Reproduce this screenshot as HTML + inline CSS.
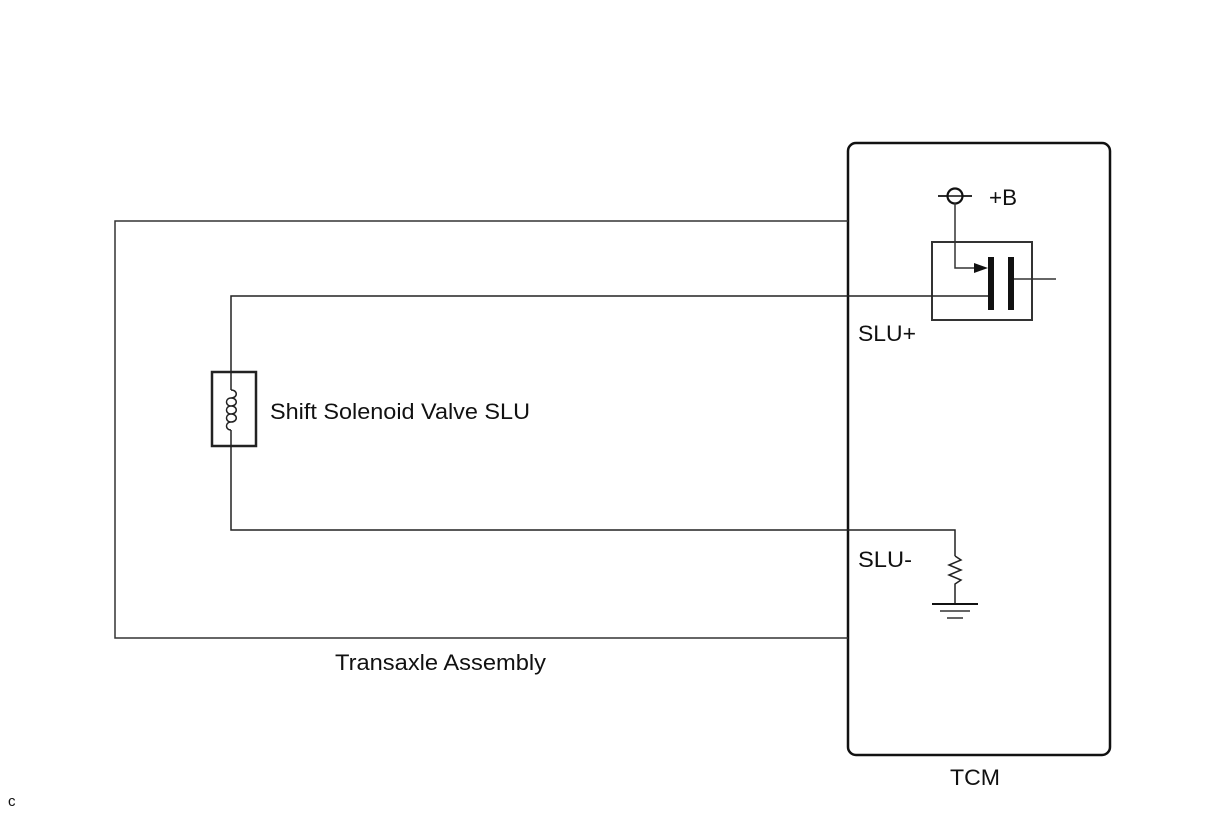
<!DOCTYPE html>
<html><head><style>
html,body{margin:0;padding:0;background:#fff;}
svg{display:block;}
text{font-family:"Liberation Sans",sans-serif;fill:#111;}
</style></head><body>
<svg width="1210" height="814" viewBox="0 0 1210 814" xmlns="http://www.w3.org/2000/svg">
<rect width="1210" height="814" fill="#fff"/>
<rect x="848" y="143" width="262" height="612" rx="8" fill="none" stroke="#111" stroke-width="2.5"/>
<polyline points="848,221 115,221 115,638 848,638" fill="none" stroke="#333" stroke-width="1.5"/>
<line x1="938" y1="196" x2="972" y2="196" stroke="#111" stroke-width="1.5"/>
<circle cx="955" cy="196" r="7.5" fill="#fff" stroke="#111" stroke-width="2.2"/>
<line x1="938" y1="196" x2="972" y2="196" stroke="#111" stroke-width="1.5"/>
<text x="989" y="205" font-size="22" textLength="28" lengthAdjust="spacingAndGlyphs">+B</text>
<rect x="932" y="242" width="100" height="78" fill="none" stroke="#333" stroke-width="2"/>
<polyline points="955,203 955,268 976,268" fill="none" stroke="#333" stroke-width="1.5"/>
<polygon points="974,263 988,268 974,273" fill="#111"/>
<rect x="988" y="257" width="6" height="53" fill="#111"/>
<rect x="1008" y="257" width="6" height="53" fill="#111"/>
<line x1="1014" y1="279" x2="1056" y2="279" stroke="#333" stroke-width="1.5"/>
<polyline points="988,296 231,296 231,372" fill="none" stroke="#222" stroke-width="1.5"/>
<text x="858" y="341" font-size="22" textLength="58" lengthAdjust="spacingAndGlyphs">SLU+</text>
<rect x="212" y="372" width="44" height="74" fill="none" stroke="#222" stroke-width="2.5"/>
<line x1="231" y1="372" x2="231" y2="390" stroke="#222" stroke-width="1.5"/>
<path d="M231,390 c7,0 7,8 0,8 c-6,0 -6,8 0,8 M231,398 c7,0 7,8 0,8 c-6,0 -6,8 0,8 M231,406 c7,0 7,8 0,8 c-6,0 -6,8 0,8 M231,414 c7,0 7,8 0,8 c-6,0 -6,8 0,8" fill="none" stroke="#222" stroke-width="1.5"/>
<line x1="231" y1="430" x2="231" y2="446" stroke="#222" stroke-width="1.5"/>
<text x="270" y="419" font-size="22" textLength="260" lengthAdjust="spacingAndGlyphs">Shift Solenoid Valve SLU</text>
<polyline points="231,446 231,530 955,530 955,556" fill="none" stroke="#222" stroke-width="1.5"/>
<polyline points="955,556 961,560 949,565 961,570 949,575 961,580 955,584 955,604" fill="none" stroke="#222" stroke-width="1.5"/>
<text x="858" y="567" font-size="22" textLength="54" lengthAdjust="spacingAndGlyphs">SLU-</text>
<line x1="932" y1="604" x2="978" y2="604" stroke="#111" stroke-width="2"/>
<line x1="940" y1="611" x2="970" y2="611" stroke="#333" stroke-width="1.5"/>
<line x1="947" y1="618" x2="963" y2="618" stroke="#333" stroke-width="1.5"/>
<text x="335" y="670" font-size="22" textLength="211" lengthAdjust="spacingAndGlyphs">Transaxle Assembly</text>
<text x="950" y="785" font-size="22" textLength="50" lengthAdjust="spacingAndGlyphs">TCM</text>
<text x="8" y="806" font-size="15">c</text>
</svg>
</body></html>
